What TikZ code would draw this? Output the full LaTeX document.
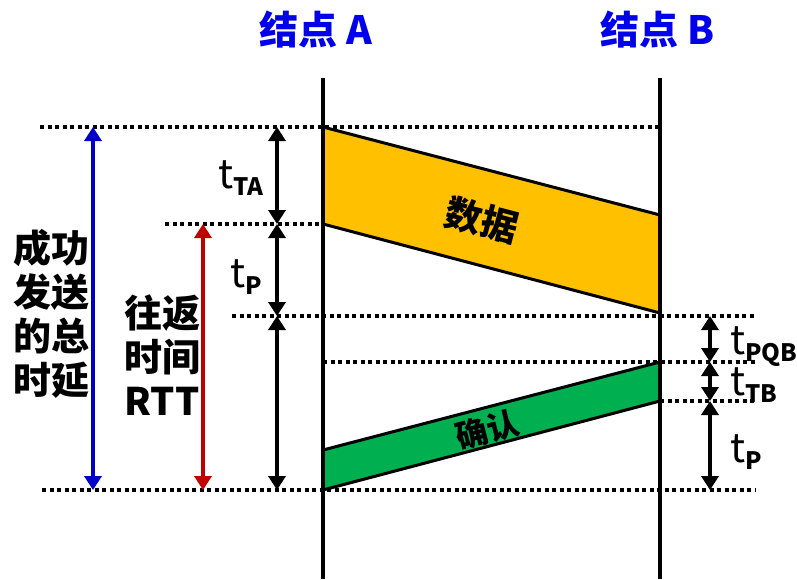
\documentclass[tikz,border=0pt]{standalone}
\usepackage{fontspec}
\usepackage{tikz}
\usetikzlibrary{arrows.meta}
\setmainfont{Noto Sans CJK SC}
\definecolor{ndblue}{RGB}{0,0,235}
\definecolor{totblue}{RGB}{0,0,200}
\definecolor{rttred}{RGB}{192,0,0}
\definecolor{dataorange}{RGB}{255,192,0}
\definecolor{ackgreen}{RGB}{0,176,80}
\newcommand{\tdelay}[1]{t\raisebox{-7pt}{\fontsize{24}{24}\selectfont\bfseries #1}}

\begin{document}
\begin{tikzpicture}[x=1pt,y=-1pt,
    title/.style={text=ndblue, font=\bfseries\fontsize{39}{39}\selectfont, inner sep=0pt},
    timeline/.style={line width=4pt},
    guide/.style={line width=3.5pt, dash pattern=on 4pt off 3.5pt},
    frame/.style={draw=black, line width=3pt, line join=miter},
    span/.style={line width=3.5pt, {Triangle[width=17pt,length=14pt]}-{Triangle[width=17pt,length=14pt]}},
    big/.style={font=\bfseries\fontsize{38}{44}\selectfont, align=center, inner sep=0pt},
    tlabel/.style={anchor=base west, inner sep=0pt, font=\fontsize{40}{40}\selectfont}]
    \useasboundingbox (0,0) rectangle (797,579);

    % Nodes
    \node[title] (nodeA) at (316,30) {结点 A};
    \node[title] (nodeB) at (658,30) {结点 B};

    % Frames
    \coordinate (dA1) at (323,127);
    \coordinate (dB1) at (660,215);
    \coordinate (dB2) at (660,313);
    \coordinate (dA2) at (323,224);
    \filldraw[frame, fill=dataorange] (dA1) -- (dB1) -- (dB2) -- (dA2) -- cycle;
    \coordinate (kA1) at (323,450);
    \coordinate (kB1) at (660,362);
    \coordinate (kB2) at (660,401);
    \coordinate (kA2) at (323,490);
    \filldraw[frame, fill=ackgreen] (kA1) -- (kB1) -- (kB2) -- (kA2) -- cycle;
    \node[rotate=-14.6, inner sep=0pt, font=\bfseries\fontsize{37}{37}\selectfont] (data) at (482,220) {数据};
    \node[rotate=14.6, inner sep=0pt, font=\bfseries\fontsize{32}{32}\selectfont] (ack) at (487,430) {确认};

    % Guides
    \coordinate (g1l) at (40,127);
    \coordinate (g1r) at (660,127);
    \coordinate (g2l) at (165,224);
    \coordinate (g3l) at (232,316);
    \coordinate (g3r) at (755,316);
    \coordinate (g4l) at (323,362);
    \coordinate (g4r) at (755,362);
    \coordinate (g5l) at (660,401);
    \coordinate (g5r) at (755,401);
    \coordinate (g6l) at (42,490);
    \coordinate (g6r) at (755,490);
    \draw[guide] (g1l) -- (g1r);
    \draw[guide] (g2l) -- (dA2);
    \draw[guide] (g3l) -- (g3r);
    \draw[guide] (g4l) -- (g4r);
    \draw[guide] (g5l) -- (g5r);
    \draw[guide] (g6l) -- (g6r);

    % Time axes
    \coordinate (aStart) at (323,78);
    \coordinate (aEnd) at (323,579);
    \coordinate (bStart) at (660,78);
    \coordinate (bEnd) at (660,579);
    \draw[timeline] (aStart) -- (aEnd);
    \draw[timeline] (bStart) -- (bEnd);

    % Spans
    \coordinate (colTot) at (93,0);
    \coordinate (colRtt) at (203,0);
    \coordinate (colA) at (277,0);
    \coordinate (colB) at (710,0);
    \draw[span, totblue] (colTot |- g1l) -- (colTot |- g6l);
    \draw[span, rttred] (colRtt |- g2l) -- (colRtt |- g6l);
    \draw[span] (colA |- g1l) -- (colA |- g2l);
    \draw[span] (colA |- g2l) -- (colA |- g3l);
    \draw[span] (colA |- g3l) -- (colA |- g6l);
    \draw[span] (colB |- g3l) -- (colB |- g4l);
    \draw[span] (colB |- g4l) -- (colB |- g5l);
    \draw[span] (colB |- g5l) -- (colB |- g6l);

    % Labels
    \node[big] (total) at (51,314) {成功\\发送\\的总\\时延};
    \node[big] (rtt) at (162,355) {往返\\时间\\RTT};
    \node[tlabel] (tTA) at (218,188) {\tdelay{TA}};
    \node[tlabel] (tPA) at (230,287) {\tdelay{P}};
    \node[tlabel] (tPQB) at (730,354) {\tdelay{PQB}};
    \node[tlabel] (tTB) at (730,395) {\tdelay{TB}};
    \node[tlabel] (tPB) at (730,462) {\tdelay{P}};
\end{tikzpicture}
\end{document}
